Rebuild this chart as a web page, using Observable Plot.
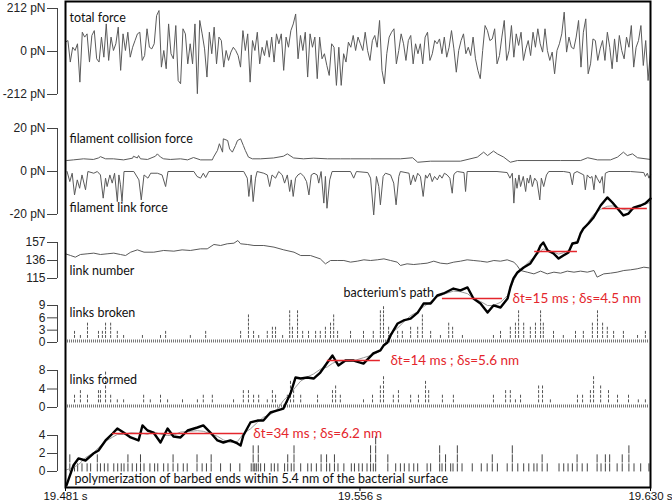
<!DOCTYPE html>
<html>
<head>
<meta charset="utf-8">
<script src="https://cdn.jsdelivr.net/npm/d3@7"></script>
<script src="https://cdn.jsdelivr.net/npm/@observablehq/plot@0.6"></script>
<style>
html,body{margin:0;padding:0;background:#fff;}
#chart svg{display:block;}
</style>
</head>
<body>
<div id="chart"></div>
<script>
// ---- time axis (seconds) ----
const tStart = 19.481, tEnd = 19.630;
const xTicks = [19.481, 19.556, 19.630];

// ---- y tick values per panel ----
const totalTicks = [212, 0, -212];
const forceTicks = [20, 0, -20];
const linkTicks = [157, 136, 115];
const brokenTicks = [9, 6, 3, 0];
const formedTicks = [8, 4, 0];
const polyTicks = [4, 2, 0];

// ---- total force (pN), evenly sampled over the window ----
const totalForce = [46,54,-52,21,5,38,-151,95,71,87,-52,79,103,-36,-52,71,-28,136,-44,71,5,38,120,-93,87,5,95,-28,21,54,87,95,-44,-20,112,21,13,38,177,202,-77,5,-85,136,-11,-36,128,-143,-159,112,87,-61,38,-61,136,-208,153,87,13,-126,95,-11,120,-61,71,54,-77,5,-44,-3,21,5,-20,-77,103,5,87,-151,54,5,95,-61,21,-20,54,-28,71,-52,87,38,87,-93,71,21,103,136,185,-36,79,5,95,-126,87,21,71,-134,71,-36,-11,-69,-118,38,21,-167,
21,-167,-11,-52,46,21,79,5,71,38,5,95,5,-44,54,79,21,153,-93,-159,-11,71,95,112,-61,5,87,38,-44,54,79,-61,38,-11,38,-61,71,95,-44,-11,54,38,62,-11,71,-28,21,103,13,-102,5,54,87,-11,21,-20,71,-36,-93,-134,5,128,103,54,62,112,-61,-20,71,153,-44,5,128,-28,87,30,95,-44,13,54,-20,95,21,112,38,-3,112,5,-44,-3,-110,5,38,87,194,-3,71,21,13,71,153,-77,95,161,-110,-61,62,54,-44,13,54,-44,95,21,-85,62,-52,79,5,-36,71,21,128,-77,21,54,128,-69,54,-143,5];

// ---- filament collision force [ms after 19.481 s, pN] ----
const collisionForce = [[0.3,5.1],[2.0,5.4],[4.6,5.9],[7.1,5.6],[8.4,6.3],[8.9,6.9],[10.2,5.9],[12.2,5.9],[14.8,5.4],[17.1,6.2],[17.3,7.1],[18.3,6.3],[18.6,7.4],[19.1,5.9],[20.9,5.6],[22.9,7.1],[23.4,8.2],[24.2,6.7],[25.0,5.9],[26.7,5.6],[29.3,5.9],[31.1,5.4],[32.6,6.5],[34.4,5.4],[37.4,5.4],[37.7,6.7],[38.7,9.8],[39.2,12.9],[40.0,9.0],[40.2,15.2],[41.3,14.4],[41.8,10.5],[42.5,9.0],[43.3,12.1],[43.8,14.4],[44.6,15.2],[45.3,12.1],[45.8,9.8],[46.6,6.7],[47.6,5.9],[49.7,5.9],[53.0,6.3],[55.5,7.1],[56.5,8.2],[58.1,6.3],[60.6,5.9],[63.2,6.2],[66.7,5.9],[70.0,5.9],[72.6,5.9],[77.7,5.9],[85.3,5.9],[88.4,6.4],[89.7,4.3],[93.0,4.8],[100.6,4.8],[104.9,6.7],[106.5,9.0],[107.5,7.4],[109.0,9.5],[110.0,8.2],[111.6,6.7],[113.3,4.3],[115.1,5.1],[126.1,5.1],[131.2,5.1],[133.0,6.4],[135.5,5.4],[138.8,5.4],[140.6,6.7],[142.1,9.0],[143.1,7.4],[144.4,8.2],[145.7,6.4],[149.0,5.6]];

// ---- filament link force [ms, pN] ----
const linkForce = [[0.4,0],[1.1,-4.7],[1.7,-0.8],[2.3,-10.9],[3.0,-3.9],[3.6,-7.8],[4.2,-1.6],[5.1,-8.5],[5.7,0],[7.2,-0.8],[8.1,0],[8.9,-1.6],[9.6,-12.4],[10.2,-3.1],[10.6,-7.0],[11.3,-1.6],[11.9,-5.4],[12.5,-0.8],[13.2,-14.0],[13.6,-1.6],[14.0,-6.2],[14.4,-14.0],[14.9,0],[17.4,0],[18.7,-3.9],[19.3,-13.2],[20.0,-1.6],[21.0,-3.1],[21.7,-0.8],[23.4,-0.8],[24.6,-1.6],[25.5,-7.0],[26.1,0],[32.7,0],[33.5,-2.3],[34.4,-3.1],[35.1,-0.8],[35.7,-2.8],[36.5,0],[45.4,0],[46.3,-3.1],[46.7,-11.6],[47.3,-1.6],[47.8,-14.0],[48.4,-3.1],[48.8,0],[50.5,-0.8],[51.4,-1.6],[52.0,-7.0],[52.6,-1.6],[53.5,-3.1],[54.3,0],[55.2,-1.6],[55.8,-5.4],[56.5,-1.6],[57.1,-9.3],[57.5,-3.9],[58.0,-11.6],[58.6,-3.1],[59.2,-1.6],[59.9,-0.8],[60.7,-2.3],[61.4,-4.7],[62.0,-10.9],[62.6,-1.6],[63.3,-0.8],[64.1,-1.6],[64.5,-5.4],[65.1,0],[65.8,-14.7],[66.2,-2.3],[66.6,-17.1],[67.3,-3.9],[67.9,0],[72.6,0],[73.4,-3.1],[74.1,0],
[77.0,-0.5],[77.7,-3.1],[78.5,-20.2],[79.2,-2.3],[79.8,-7.0],[80.2,-15.5],[80.9,-2.3],[81.5,-0.8],[82.8,-1.6],[83.6,-5.4],[84.2,-15.5],[84.9,-2.3],[85.3,0],[87.5,-0.8],[87.9,-6.2],[88.6,-1.6],[89.1,-4.7],[89.7,-0.8],[90.4,-2.3],[91.1,-11.6],[91.7,-1.6],[92.1,-3.1],[92.8,-0.8],[93.4,-4.7],[94.0,-2.3],[94.7,-3.9],[95.3,-1.6],[95.9,-3.1],[96.5,-0.8],[97.2,-1.6],[97.9,-3.1],[98.5,-10.1],[98.9,-1.6],[99.3,-0.5],[99.8,0],[101.5,-0.5],[101.9,-9.3],[102.3,0],[109.9,0],[112.5,-0.5],[113.2,-3.1],[113.8,-0.8],[114.2,-14.7],[114.6,-3.1],[115.0,-7.8],[115.5,-1.6],[115.9,-7.0],[116.6,-2.3],[117.2,-9.3],[117.6,-3.1],[118.0,-5.4],[118.4,-1.6],[118.9,-7.0],[119.5,-3.1],[120.1,-4.7],[120.8,-13.2],[121.2,-3.1],[121.8,-7.0],[122.5,-1.6],[123.1,0],[126.9,0],[128.5,-0.5],[129.1,-6.2],[129.5,-0.8],[130.3,0],[132.0,-1.6],[132.4,-8.5],[132.9,-1.6],[133.6,-3.1],[134.1,-2.3],[134.6,-8.5],[135.0,-1.6],[135.4,-3.1],[136.1,-5.4],[136.7,-2.3],[137.1,-10.1],[137.5,-0.8],[138.4,0],[143.9,0],[147.3,-0.5],[147.7,-2.3],[148.2,-0.8],[148.6,-3.1],[149.0,-1.6]];

// ---- link number [ms, count] ----
const linkNumber = [[0,143.8],[1.3,141.8],[2.5,139.9],[3.8,143.0],[5.5,143.8],[7.2,144.6],[8.9,143.0],[10.6,143.8],[12.3,144.6],[14.0,143.0],[15.3,141.8],[16.6,145.7],[18.3,148.4],[20.0,145.7],[22.5,145.7],[25.0,147.7],[27.6,146.9],[29.7,148.4],[31.8,147.7],[34.4,149.6],[36.1,149.6],[37.8,154.7],[39.5,153.5],[41.2,155.5],[42.9,156.2],[43.9,159.3],[44.6,155.5],[46.3,154.7],[48.0,153.5],[50.5,153.5],[53.1,151.6],[55.6,148.4],[58.2,145.7],[59.9,141.8],[62.4,141.8],[64.9,137.9],[66.2,132.1],[67.5,136.0],[69.2,136.0],[70.9,136.0],[72.6,134.1],[74.3,135.2],[76.0,136.8],[77.7,136.0],[79.4,136.8],[81.1,137.9],[82.8,136.0],[84.5,134.1],[85.3,130.2],[87.0,132.1],[88.7,131.3],[90.4,132.1],[92.1,132.9],[93.8,135.2],[95.5,132.9],[97.2,132.1],[98.9,134.1],[100.6,135.2],[102.3,136.8],[104.0,136.0],[105.7,135.2],[107.4,134.1],[109.1,136.0],[110.8,135.2],[112.5,136.8],[114.2,134.1],[115.0,130.2],[115.9,124.3],[117.6,122.4],[119.3,120.4],[121.0,123.6],[122.7,120.4],[124.4,122.4],[126.1,121.2],[127.8,123.6],[129.5,122.4],[131.2,123.6],[132.9,122.4],[134.6,124.3],[135.4,116.6],[137.1,120.4],[138.8,121.2],[140.5,122.4],[142.2,124.3],[143.9,125.1],[145.6,126.3],[147.3,128.2],[148.6,127.4]];

// ---- links broken / formed events [ms, count] ----
const linksBroken = [[2.3,3],[3.8,2],[5.6,5],[8.4,3],[9.4,3],[10.2,5],[11.5,5],[13.2,3],[14.8,2],[19.6,2],[24.2,2],[25.5,3],[31.8,2],[35.7,3],[44.6,3],[46.6,7],[47.9,3],[49.2,2],[51.4,3],[52.7,4],[53.5,4],[55.3,2],[57.1,8],[57.8,4],[59.1,8],[60.4,3],[61.9,3],[63.7,3],[64.9,3],[66.2,4],[67.5,5],[68.3,7],[69.3,3],[72.6,3],[75.9,3],[78.4,3],[80.2,8],[81.0,9],[82.3,4],[84.6,3],[85.8,3],[87.9,4],[89.7,4],[90.9,7],[93.0,3],[95.5,2],[97.6,5],[98.6,4],[101.1,2],[109.0,2],[110.8,3],[113.3,4],[114.6,5],[115.4,8],[116.7,5],[118.4,4],[119.7,5],[121.0,8],[121.7,5],[124.3,3],[126.8,2],[129.9,3],[131.9,3],[134.2,5],[135.5,8],[136.8,5],[138.0,4],[139.6,3],[142.1,3],[145.7,2],[147.7,3]];
const linksFormed = [[2.3,3],[3.8,4],[5.6,3],[8.4,4],[8.9,4],[10.2,8],[11.5,3],[13.2,2],[14.8,2],[19.9,3],[21.6,2],[24.2,3],[26.0,2],[29.8,2],[33.6,2],[35.1,3],[37.4,3],[42.8,2],[45.3,4],[46.6,4],[47.9,3],[49.2,3],[51.4,2],[52.7,4],[53.5,3],[56.5,3],[57.3,6],[58.1,4],[59.9,3],[64.2,3],[68.0,4],[68.8,5],[70.0,3],[75.9,2],[78.2,3],[80.2,5],[81.0,7],[83.5,3],[84.8,4],[87.9,3],[89.9,3],[91.7,6],[92.5,4],[96.0,3],[98.8,3],[109.0,3],[112.1,4],[113.3,4],[114.6,2],[115.9,3],[120.5,5],[121.5,5],[123.5,2],[130.4,3],[131.7,3],[133.7,4],[134.5,7],[136.3,5],[138.3,4],[140.6,3],[143.4,3],[145.9,2],[147.7,2]];

// ---- polymerization events [ms, count] ----
const polymerization = [[1.1,2],[2.3,1],[3.1,1],[4.2,1],[5.5,1],[6.4,1],[8.1,2],[8.9,1],[9.9,1],[10.8,1],[12.3,1],[13.3,1],[14.2,1],[14.9,1],[15.9,2],[17.0,1],[18.1,1],[19.1,2],[20.0,1],[21.5,1],[22.7,1],[23.5,1],[25.0,1],[26.1,1],[27.4,2],[28.6,1],[30.0,1],[31.0,1],[33.5,2],[34.8,1],[35.9,1],[37.1,2],[39.5,1],[42.0,1],[44.4,1],[47.3,1],[47.8,3],[48.2,1],[48.6,1],[49.1,3],[49.7,1],[50.7,1],[52.4,1],[53.2,1],[54.1,1],[55.8,1],[56.6,2],[57.5,1],[58.2,3],[59.9,1],[61.7,1],[62.6,1],[63.9,1],[65.1,2],[66.5,2],[67.3,1],[68.5,2],[69.4,1],
[70.9,1],[72.8,1],[73.6,1],[74.7,1],[75.6,1],[76.8,1],[77.7,3],[78.4,1],[79.0,4],[82.1,2],[84.1,1],[85.3,1],[86.3,1],[87.5,1],[88.7,1],[89.7,1],[92.1,1],[93.0,1],[95.3,3],[95.9,1],[96.8,2],[98.1,1],[98.7,1],[99.8,3],[101.0,1],[103.6,1],[105.9,1],[107.4,1],[108.7,2],[110.0,1],[112.5,1],[113.8,3],[115.2,1],[116.7,1],[118.0,1],[119.3,1],[120.1,1],[121.4,2],[122.7,1],[125.7,1],[126.9,1],[128.0,1],[129.1,1],[130.3,2],[131.6,1],[132.9,1],[135.4,2],[136.4,1],[137.5,2],[138.6,2],[140.5,1],[141.8,2],[143.5,3],[144.8,1],[146.5,1],[148.6,1]];

// ---- bacterium's path [ms, nm] ----
const bacteriumPath = [[0.25,0.17],[2.0,1.83],[3.3,2.42],[5.1,2.25],[7.1,2.83],[8.4,3.08],[10.2,3.92],[12.0,4.5],[13.2,4.92],[14.8,4.58],[16.6,4.17],[18.6,3.92],[19.6,5.17],[20.9,4.75],[22.4,4.58],[24.2,3.75],[26.0,4.92],[27.5,4.25],[29.3,4.17],[31.1,4.75],[33.6,5.0],[35.1,5.17],[36.9,4.58],[38.7,3.92],[40.2,3.75],[42.0,3.92],[43.8,3.67],[44.6,3.5],[45.3,4.33],[47.1,5.42],[48.9,5.58],[50.4,5.58],[52.2,6.25],[54.0,6.42],[55.5,6.58],[57.3,7.83],[58.6,9.17],[59.9,9.08],[61.6,9.17],[63.2,9.08],[64.9,9.58],[66.7,10.42],[68.0,11.0],[69.5,10.17],[71.3,10.58],[73.4,10.58],[75.9,10.33],[78.4,11.17],[80.2,11.42],[81.0,11.83],[82.0,12.08],[82.8,12.67],[84.6,13.67],[86.1,13.92],[87.9,14.08],[89.7,14.58],[91.2,15.33],[93.0,15.33],[94.7,16.0],[96.3,16.17],[98.8,16.58],[100.6,16.42],[102.4,16.67],[103.9,15.75],[105.7,15.33],[107.5,14.58],[109.0,15.17],[110.8,15.0],[112.6,15.75],[113.3,16.67],[114.1,17.42],[115.1,17.92],[116.7,18.33],[118.4,18.67],[120.2,19.58],[121.0,20.17],[121.7,20.42],[122.8,19.75],[124.3,19.5],[125.6,19.08],[126.8,19.33],[128.1,19.58],[129.1,20.33],[130.4,20.42],[131.2,21.17],[131.9,21.58],[133.2,22.0],[134.5,22.5],[136.3,23.5],[138.0,24.17],[139.3,23.75],[140.6,23.25],[142.1,22.67],[143.4,22.83],[144.7,23.33],[146.5,23.5],[147.7,23.67],[149.0,24.08]];

// ---- pauses of the path ----
const pauseStartMs = [12.0, 66.7, 96.0, 119.5, 136.8];
const pauseEndMs = [45.3, 80.2, 111.3, 130.4, 148.2];
const pauseNm = [4.5, 10.58, 15.75, 19.67, 23.25];
const pauseLabels = ["δt=34 ms ; δs=6.2 nm", "δt=14 ms ; δs=5.6 nm", "δt=15 ms ; δs=4.5 nm", "", ""];

// ---- layout: each panel occupies a band of one shared vertical scale ----
const panels = {
  total:  {base: 436, k: 43 / 212, origin: 0},
  force:  {base: 316, k: 2.15, origin: 0},
  links:  {base: 209, k: 36 / 42, origin: 115},
  broken: {base: 145, k: 37 / 9, origin: 0},
  formed: {base: 80,  k: 37 / 8, origin: 0},
  poly:   {base: 16,  k: 9, origin: 0},
  path:   {base: 0,   k: 12, origin: 0}
};
const Y = (p, v) => panels[p].base + (v - panels[p].origin) * panels[p].k;
const X = ms => tStart + ms / 1000;
const spanMs = (tEnd - tStart) * 1000;

const TEXT_FONT = "Lato, 'Open Sans', sans-serif";
const RED = "#e4262c";

const totalRows = totalForce.map((v, i) => ({t: X(i * spanMs / (totalForce.length - 1)), c: Y("total", v)}));
const collisionRows = collisionForce.map(([ms, v]) => ({t: X(ms), c: Y("force", v)}));
const linkForceRows = linkForce.map(([ms, v]) => ({t: X(ms), c: Y("force", v)}));
const linkRows = linkNumber.map(([ms, v]) => ({t: X(ms), c: Y("links", v)}));
const pathRows = bacteriumPath.map(([ms, v]) => ({t: X(ms), c: Y("path", v)}));
const pauseRows = pauseStartMs.map((s, i) => ({t1: X(s), t2: X(pauseEndMs[i]), c: Y("path", pauseNm[i]), label: pauseLabels[i]}));

const stackDashes = (events, p, h) => events.flatMap(([ms, n]) =>
  d3.range(1, n).map(j => ({t: X(ms), y1: Y(p, j), y2: Y(p, j + h)})));
const brokenDashes = stackDashes(linksBroken, "broken", 0.7);
const formedDashes = stackDashes(linksFormed, "formed", 0.65);
const polyDashes = polymerization.flatMap(([ms, n]) =>
  d3.range(0, n).map(j => ({t: X(ms), y1: Y("poly", j - 0.05), y2: Y("poly", j + 0.85)})));

// y axis ticks
const tickRows = [
  ...totalTicks.map(v => ({c: Y("total", v), label: `${v} pN`})),
  ...forceTicks.map(v => ({c: Y("force", v), label: `${v} pN`})),
  ...linkTicks.map(v => ({c: Y("links", v), label: `${v}`})),
  ...brokenTicks.map(v => ({c: Y("broken", v), label: `${v}`})),
  ...formedTicks.map(v => ({c: Y("formed", v), label: `${v}`})),
  ...polyTicks.map(v => ({c: Y("poly", v), label: `${v}`}))
];
const labelOf = new Map(tickRows.map(d => [d.c, d.label]));
const groupRows = [
  {y1: Y("total", totalTicks[0]), y2: Y("total", totalTicks[2])},
  {y1: Y("force", forceTicks[0]), y2: Y("force", forceTicks[2])},
  {y1: Y("links", linkTicks[0]), y2: Y("links", linkTicks[2])},
  {y1: Y("broken", brokenTicks[0]), y2: Y("broken", brokenTicks[3])},
  {y1: Y("formed", formedTicks[0]), y2: Y("formed", formedTicks[2])},
  {y1: Y("poly", polyTicks[0]), y2: Y("poly", polyTicks[2])}
];

const label = (txt, p, v, dx = 4) => Plot.text([txt], {
  frameAnchor: "left", y: () => Y(p, v), dx, textAnchor: "start",
  fontFamily: TEXT_FONT, fontSize: 12.5, fill: "#111"
});

const chart = Plot.plot({
  width: 672, height: 503,
  marginLeft: 65, marginRight: 22, marginTop: 1, marginBottom: 16,
  style: {fontFamily: "'Liberation Sans', Arial, sans-serif", fontSize: "12.5px", background: "#fff", overflow: "visible"},
  x: {domain: [tStart, tEnd]},
  y: {domain: [0, 486]},
  marks: [
    // signals
    Plot.line(totalRows, {x: "t", y: "c", stroke: "#5a5a5a", strokeWidth: 1}),
    Plot.line(collisionRows, {x: "t", y: "c", stroke: "#5a5a5a", strokeWidth: 1}),
    Plot.line(linkForceRows, {x: "t", y: "c", stroke: "#5a5a5a", strokeWidth: 1}),
    Plot.line(linkRows, {x: "t", y: "c", stroke: "#5a5a5a", strokeWidth: 1}),
    // event rows
    Plot.ruleY([Y("broken", 0.35)], {stroke: "#777", strokeWidth: 3, strokeDasharray: "1,1", insetLeft: 2, insetRight: 2}),
    Plot.ruleX(brokenDashes, {x: "t", y1: "y1", y2: "y2", stroke: "#555", strokeWidth: 1}),
    Plot.ruleY([Y("formed", 0.33)], {stroke: "#777", strokeWidth: 3, strokeDasharray: "1,1", insetLeft: 2, insetRight: 2}),
    Plot.ruleX(formedDashes, {x: "t", y1: "y1", y2: "y2", stroke: "#555", strokeWidth: 1}),
    Plot.ruleX(polyDashes, {x: "t", y1: "y1", y2: "y2", stroke: "#444", strokeWidth: 1}),
    // bacterium path
    Plot.line(pathRows, Plot.windowY({k: 5}, {x: "t", y: "c", stroke: "#9a9a9a", strokeWidth: 1})),
    Plot.line(pathRows, {x: "t", y: "c", stroke: "#000", strokeWidth: 2.4, strokeLinejoin: "round"}),
    Plot.ruleY(pauseRows, {x1: "t1", x2: "t2", y: "c", stroke: RED, strokeWidth: 1.5}),
    Plot.text(pauseRows, {x: "t2", y: "c", text: "label", dx: 10, textAnchor: "start", fill: RED, fontFamily: TEXT_FONT, fontSize: 13.5}),
    // panel labels
    label("total force", "total", 163),
    label("filament collision force", "force", 14.9),
    label("filament link force", "force", -17.2),
    label("link number", "links", 124.3),
    label("links broken", "broken", 7.1),
    label("links formed", "formed", 6.05),
    label("polymerization of barbed ends within 5.4 nm of the bacterial surface", "poly", -0.78, 9),
    Plot.text(["bacterium's path"], {x: () => X(70.8), y: () => Y("path", 16.25), textAnchor: "start", fontFamily: TEXT_FONT, fontSize: 12.5, fill: "#111"}),
    // frame and axes
    Plot.frame({stroke: "#000", strokeWidth: 2}),
    Plot.ruleX(groupRows, {x: () => tStart, y1: "y1", y2: "y2", dx: -8, stroke: "#444", strokeWidth: 1}),
    Plot.axisY(tickRows.map(d => d.c), {tickFormat: c => labelOf.get(c), tickSize: 10, tickPadding: 2, dx: -8, stroke: "#444", fill: "#222", fontSize: 12, fontVariant: "normal"}),
    Plot.axisX(xTicks, {tickFormat: d => d.toFixed(3) + " s", tickSize: 4, tickPadding: 0, fontSize: 11.5, fontVariant: "normal", fill: "#111", stroke: "#000"})
  ]
});
document.getElementById("chart").appendChild(chart);
</script>
</body>
</html>
